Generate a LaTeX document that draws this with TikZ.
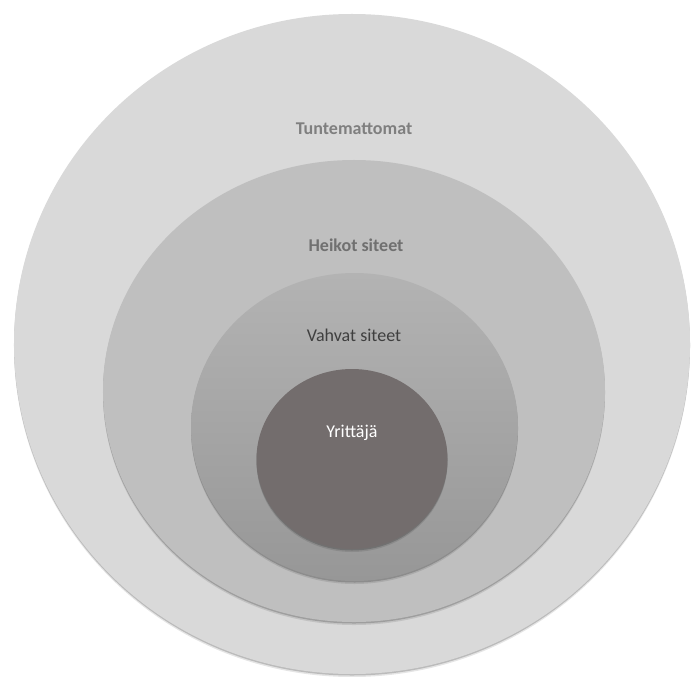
\documentclass[tikz,border=0pt]{standalone}
\usepackage{fontspec}
\setmainfont{Carlito}
\usetikzlibrary{shapes.geometric,shadows}
\definecolor{ringA}{HTML}{D9D9D9}
\definecolor{ringB}{HTML}{BFBFBF}
\definecolor{ringCtop}{HTML}{B3B3B3}
\definecolor{ringCbot}{HTML}{979797}
\definecolor{core}{HTML}{736D6D}
\definecolor{txtA}{HTML}{7F7F7F}
\definecolor{txtB}{HTML}{707070}
\definecolor{txtC}{HTML}{3F3F3F}
\tikzset{
  ring/.style={ellipse, draw=none, inner sep=0pt,
    drop shadow={shadow xshift=0bp, shadow yshift=-1.5bp, fill=black, opacity=0.18},
    drop shadow={shadow xshift=0bp, shadow yshift=-3bp, fill=black, opacity=0.10}},
  lbl/.style={font=\fontsize{18bp}{20bp}\selectfont, inner sep=0pt}
}
\begin{document}
\begin{tikzpicture}[x=1bp,y=-1bp]
\useasboundingbox (0,0) rectangle (691,677);
\fill[white] (0,0) rectangle (691,677);
\clip (0,0) rectangle (691,677);
% concentric circles of the network
\node[ring, fill=ringA, minimum width=676bp, minimum height=660bp] (outer) at (352,344) {};
\node[ring, fill=ringB, minimum width=502bp, minimum height=462bp] (weak) at (354,391) {};
\node[ring, top color=ringCtop, bottom color=ringCbot, minimum width=327bp, minimum height=308bp] (strong) at (354.5,427) {};
\node[ring, fill=core, minimum width=191bp, minimum height=180bp] (self) at (352,459) {};
% labels
\node[lbl, text=txtA] (t1) at (354,129) {\bfseries Tuntemattomat};
\node[lbl, text=txtB] (t2) at (356,245) {\bfseries Heikot siteet};
\node[lbl, text=txtC] (t3) at (354,335) {Vahvat siteet};
\node[lbl, text=white] (t4) at (352,433) {Yrittäjä};
\end{tikzpicture}
\end{document}
